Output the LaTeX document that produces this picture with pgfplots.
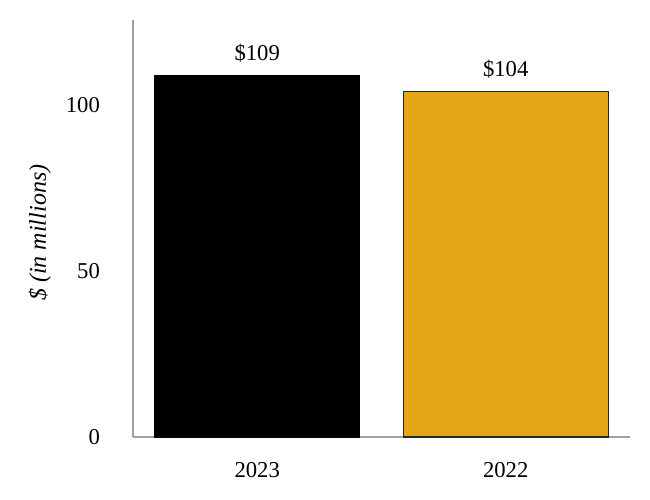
\documentclass[border=0pt]{standalone}
\usepackage{pgfplots}
\pgfplotsset{compat=1.18}
\usepackage{fontspec}
\setmainfont{Liberation Serif}
\definecolor{goldbar}{HTML}{E3A615}
\definecolor{axisgray}{HTML}{A0A0A0}
\begin{document}
\fontsize{17}{20}\selectfont
\begin{tikzpicture}
\begin{axis}[
  scale only axis,
  width=372.75pt, height=312.75pt,
  xmin=-0.5, xmax=1.5,
  ymin=0, ymax=125.6,
  axis x line*=bottom, axis y line*=left,
  axis line style={axisgray, line width=1.3pt},
  xtick={0,1}, xticklabels={2023,2022},
  ytick={0,50,100},
  major tick length=0pt,
  /pgf/number format/assume math mode=true,
  tick label style={font=\fontsize{17}{20}\selectfont},
  yticklabel style={xshift=-19pt},
  xticklabel style={yshift=-13pt},
  ylabel={\textit{\$ (in millions)}},
  ylabel style={at={(axis description cs:0,0.49)}, anchor=center, yshift=70pt, font=\fontsize{18}{21}\selectfont},
  ybar, bar shift=0pt, bar width=153.75pt,
  nodes near coords={\$\pgfmathprintnumber{\pgfplotspointmeta}},
  nodes near coords style={font=\fontsize{17}{20}\selectfont, yshift=4pt},
  clip=false,
]
\addplot[fill=black, draw=black] coordinates {(0,109)};
\addplot[fill=goldbar, draw=black!85, line width=1pt] coordinates {(1,104)};
\end{axis}
\path ([xshift=-99.75pt,yshift=-47.25pt]current axis.south west) rectangle ([xshift=15pt,yshift=15pt]current axis.north east);
\end{tikzpicture}
\end{document}
